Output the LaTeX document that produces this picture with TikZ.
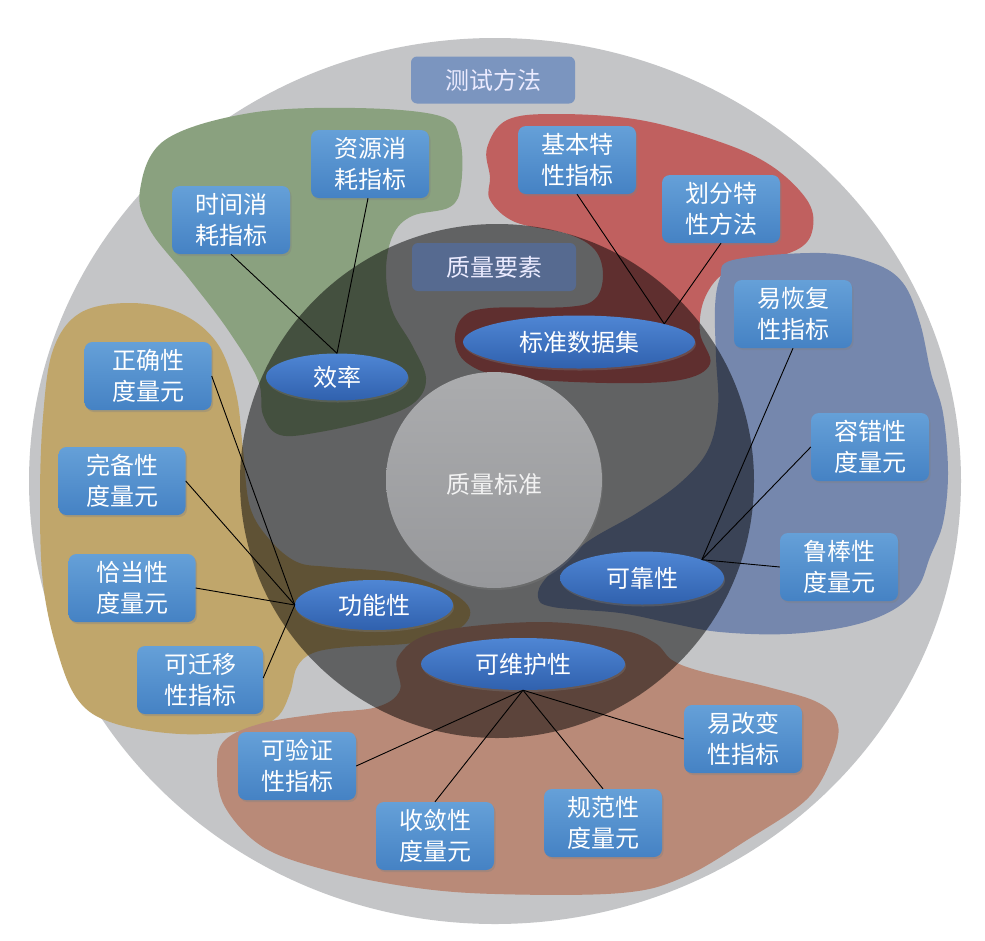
\documentclass[tikz,border=0pt]{standalone}
\usepackage{fontspec}
\newfontfamily\cjk{Noto Sans CJK SC}
\usetikzlibrary{shapes.geometric,shadows}
\definecolor{outergrey}{HTML}{C4C5C7}
\definecolor{greenblob}{HTML}{8AA17F}
\definecolor{redblob}{HTML}{C0605F}
\definecolor{blueblob}{HTML}{7587AD}
\definecolor{tanblob}{HTML}{C0A66B}
\definecolor{salmonblob}{HTML}{B98A78}
\definecolor{boxtop}{HTML}{65A0D8}
\definecolor{boxbot}{HTML}{4582C4}
\definecolor{elltop}{HTML}{4F86D4}
\definecolor{ellbot}{HTML}{3061AE}
\definecolor{methodbox}{HTML}{7B95BF}
\definecolor{elembox}{HTML}{566A90}
\definecolor{ctop}{HTML}{ABACAE}
\definecolor{cbot}{HTML}{97989B}
\begin{document}
\begin{tikzpicture}[x=1pt,y=-1pt,
  cjkfont/.style={font=\cjk\fontsize{24}{31}\selectfont},
  box/.style={rounded corners=8pt, minimum width=118pt, minimum height=68pt,
    inner sep=0pt, top color=boxtop, bottom color=boxbot, text=white,
    align=center, cjkfont,
    drop shadow={shadow xshift=1.5pt,shadow yshift=-2pt,opacity=0.35}},
  widebox/.style={box, minimum width=127pt},
  ell/.style={ellipse, inner sep=0pt, top color=elltop, bottom color=ellbot,
    text=white, cjkfont,
    drop shadow={shadow xshift=1pt,shadow yshift=-2pt,opacity=0.35}},
  flatbox/.style={rounded corners=6pt, minimum width=164pt, minimum height=47pt,
    inner sep=0pt, text=white!92!blue, cjkfont},
  link/.style={draw=black, line width=0.9pt}
]
\useasboundingbox (0,0) rectangle (985,940);
\fill[white] (0,0) rectangle (985,940);

% outer disc
\fill[outergrey] (495,481) ellipse [x radius=466pt, y radius=443pt];

% blobs
\fill[greenblob] plot[smooth cycle, tension=0.6] coordinates {
  (140,190) (165,140) (250,113) (355,108) (440,116) (460,140) (461,185)
  (450,207) (412,216) (393,235) (386,270) (392,310) (412,345) (426,378)
  (415,402) (380,418) (320,432) (280,435) (263,415) (258,380) (228,330)
  (190,280) (150,230)};
\fill[redblob] plot[smooth cycle, tension=0.6] coordinates {
  (490,177) (490,200) (515,222) (568,234) (595,250) (603,275) (595,299)
  (567,307) (490,308) (463,317) (455,340) (467,363) (507,377) (607,383)
  (680,380) (710,364) (700,333) (704,300) (723,274) (757,263) (800,248)
  (813,227) (807,200) (773,167) (723,143) (640,120) (557,114) (507,120)
  (487,148)};
\fill[blueblob] plot[smooth cycle, tension=0.6] coordinates {
  (733,260) (820,253) (873,263) (903,283) (920,323) (931,373) (943,413)
  (948,473) (943,523) (930,557) (918,587) (893,610) (850,626) (787,634)
  (720,632) (670,623) (620,613) (553,607) (538,597) (547,577) (587,542)
  (637,513) (680,483) (708,450) (718,407) (716,357) (715,307) (720,278)};
\fill[tanblob] plot[smooth cycle, tension=0.6] coordinates {
  (80,313) (130,303) (180,313) (217,343) (236,393) (243,450) (250,507)
  (270,540) (297,562) (330,567) (397,573) (447,590) (470,610) (457,630)
  (413,643) (347,647) (313,653) (297,667) (290,693) (277,717) (247,730)
  (180,734) (113,723) (78,700) (57,650) (43,583) (40,500) (43,417) (53,350)};
\fill[salmonblob] plot[smooth cycle, tension=0.6] coordinates {
  (398,657) (436,632) (537,622) (621,630) (655,643) (672,660) (700,671)
  (768,687) (819,703) (838,725) (831,760) (806,800) (747,840) (684,877)
  (621,893) (495,894) (410,887) (326,870) (263,847) (225,807) (217,767)
  (225,740) (263,723) (326,713) (377,707) (400,690)};

% dark ring of quality elements
\fill[black, opacity=0.5] (497,481) circle[radius=257pt];

% centre disc
\shade[top color=ctop, bottom color=cbot,
  drop shadow={shadow xshift=1pt,shadow yshift=-2pt,opacity=0.3}]
  (494,480) circle[radius=108pt];
\node[cjkfont, text=white!95!black] (std) at (494,484) {质量标准};

% labels
\node[flatbox, fill=methodbox] (method) at (493,80) {测试方法};
\node[flatbox, fill=elembox, minimum height=48pt] (elem) at (494,267) {质量要素};

% ellipses
\node[ell, minimum width=142pt, minimum height=47pt] (eff) at (337,377) {效率};
\node[ell, minimum width=232pt, minimum height=53pt] (data) at (579,342) {标准数据集};
\node[ell, minimum width=164pt, minimum height=53pt] (rel) at (642,578) {可靠性};
\node[ell, minimum width=158pt, minimum height=50pt] (func) at (374,605) {功能性};
\node[ell, minimum width=204pt, minimum height=52pt] (maint) at (523,664) {可维护性};

% boxes
\node[box] (time) at (231,220) {时间消\\耗指标};
\node[box] (res) at (370,164) {资源消\\耗指标};
\node[box] (basic) at (577,160) {基本特\\性指标};
\node[box] (part) at (721,209) {划分特\\性方法};
\node[box] (recov) at (793,314) {易恢复\\性指标};
\node[box] (fault) at (870,447) {容错性\\度量元};
\node[box] (robust) at (839,567) {鲁棒性\\度量元};
\node[widebox] (correct) at (148,376) {正确性\\度量元};
\node[widebox] (complete) at (122,481) {完备性\\度量元};
\node[widebox] (proper) at (132,588) {恰当性\\度量元};
\node[widebox, minimum width=126pt] (port) at (200,680) {可迁移\\性指标};
\node[box] (verif) at (297,766) {可验证\\性指标};
\node[box] (conv) at (435,836) {收敛性\\度量元};
\node[box] (norm) at (603,823) {规范性\\度量元};
\node[box] (change) at (743,739) {易改变\\性指标};

% connectors
\coordinate (effhub) at (eff.north);
\coordinate (datahub) at (data.12);
\coordinate (relhub) at (rel.17);
\coordinate (funchub) at (func.west);
\coordinate (mainthub) at (maint.south);

\draw[link] (time.south) -- (effhub);
\draw[link] ([xshift=-2pt]res.south) -- (effhub);
\draw[link] (basic.south) -- (datahub);
\draw[link] (part.south) -- (datahub);
\draw[link] (recov.south) -- (relhub);
\draw[link] (fault.west) -- (relhub);
\draw[link] (robust.west) -- (relhub);
\draw[link] (correct.east) -- (funchub);
\draw[link] (complete.east) -- (funchub);
\draw[link] (proper.east) -- (funchub);
\draw[link] ([yshift=2pt]port.east) -- (funchub);
\draw[link] (verif.east) -- (mainthub);
\draw[link] (conv.north) -- (mainthub);
\draw[link] (norm.north) -- (mainthub);
\draw[link] (change.west) -- (mainthub);
\end{tikzpicture}
\end{document}
